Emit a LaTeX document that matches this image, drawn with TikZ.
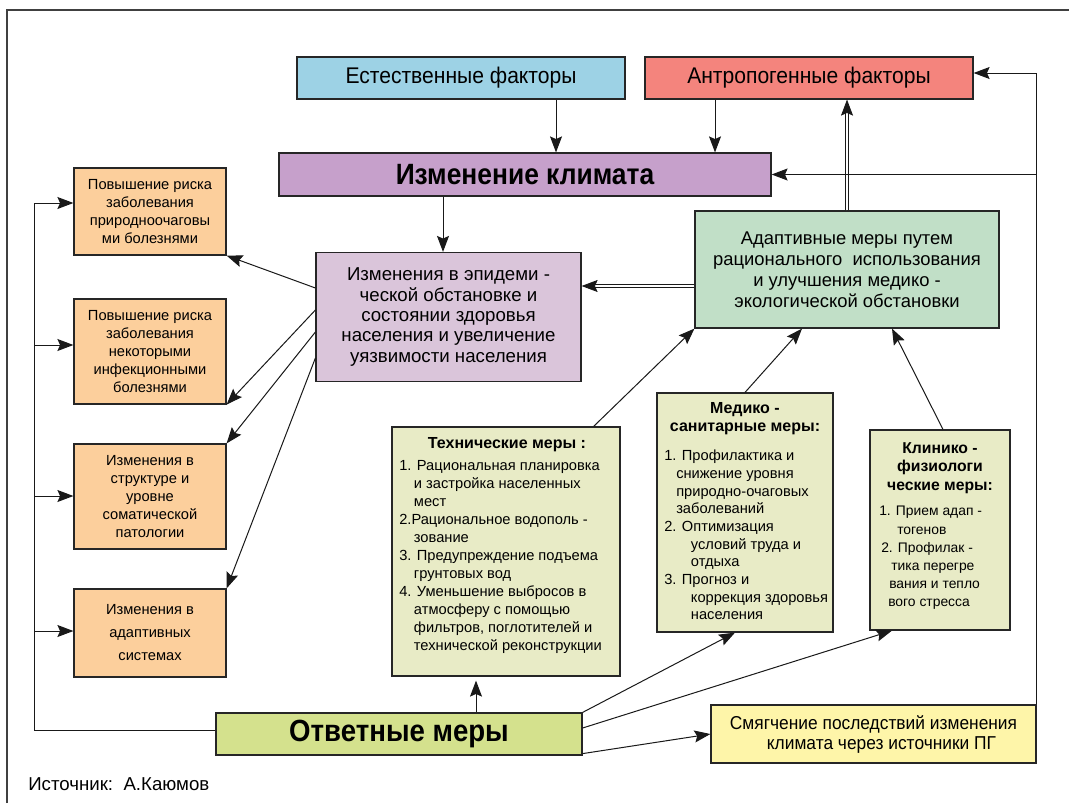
\documentclass[tikz,border=0pt]{standalone}
\usepackage{fontspec}
\setmainfont{Liberation Sans}
\newfontfamily\condfont[FakeStretch=0.9]{Liberation Sans}
\newfontfamily\semifont[FakeStretch=0.93]{Liberation Sans}
\usetikzlibrary{arrows.meta}
\definecolor{cNat}{HTML}{9DD2E5}
\definecolor{cAnt}{HTML}{F4847D}
\definecolor{cClim}{HTML}{C6A0CB}
\definecolor{cOr}{HTML}{FCCF9C}
\definecolor{cEpid}{HTML}{DAC5DA}
\definecolor{cAdapt}{HTML}{C1DFC7}
\definecolor{cMeas}{HTML}{E8EBC6}
\definecolor{cResp}{HTML}{D4E18D}
\definecolor{cMit}{HTML}{FEF5A9}
\begin{document}
\begin{tikzpicture}[x=0.75pt,y=-0.75pt,
  box/.style={draw=black!85, line width=0.9pt, inner sep=2pt, align=center},
  arr/.style={-{Stealth[length=12pt,width=9pt,inset=2pt]}, line width=0.75pt, black!90},
  dbl/.style={double=white, double distance=1.8pt, line width=0.6pt, black!90, -{Stealth[length=12pt,width=9pt,inset=2pt]}},
  lst/.style={align=left, anchor=north west, inner sep=0pt, font=\fontsize{11}{13.5}\selectfont},
  ttl/.style={align=center, inner sep=0pt, font=\bfseries\fontsize{12}{13.6}\selectfont},
  obox/.style={box, fill=cOr, minimum width=114pt, font=\fontsize{11}{13.5}\selectfont},
]
\fill[white] (0,0) rectangle (1069,803);
\useasboundingbox (0,0) rectangle (1069,803);
\draw[line width=1.5pt, black!75] (7,803) -- (7,10) -- (1069,10);

% top
\node[box, fill=cNat, minimum width=246pt, minimum height=31.5pt, font=\semifont\fontsize{17}{19}\selectfont] (nat) at (461,78) {Естественные факторы};
\node[box, fill=cAnt, minimum width=246pt, minimum height=31.5pt, font=\semifont\fontsize{17}{19}\selectfont] (ant) at (809,78) {Антропогенные факторы};
\node[box, fill=cClim, minimum width=369pt, minimum height=32.25pt, font=\condfont\bfseries\fontsize{22}{24}\selectfont] (clim) at (525,174.5) {Изменение климата};

% left boxes
\node[obox, minimum height=65.25pt] (b1) at (150,211.5) {Повышение риска\\заболевания\\природноочаговы\\ми болезнями};
\node[obox, minimum height=78.75pt] (b2) at (150,351.5) {Повышение риска\\заболевания\\некоторыми\\инфекционными\\болезнями};
\node[obox, minimum height=78.75pt] (b3) at (150,496.5) {Изменения в\\структуре и\\уровне\\соматической\\патологии};
\node[obox, minimum height=66pt, font=\fontsize{11}{17.25}\selectfont] (b4) at (150,633) {Изменения в\\адаптивных\\системах};

% middle
\node[box, fill=cEpid, minimum width=198.75pt, minimum height=96.75pt, font=\fontsize{14}{15.2}\selectfont] (epid) at (448.5,317) {Изменения в эпидеми -\\ческой обстановке и\\состоянии здоровья\\населения и увеличение\\уязвимости населения};
\node[box, fill=cAdapt, minimum width=228pt, minimum height=87.75pt, font=\fontsize{13.8}{15.75}\selectfont] (adapt) at (847,269.5) {Адаптивные меры путем\\рационального\ \ использования\\и улучшения медико -\\экологической обстановки};

% measures
\node[box, fill=cMeas, minimum width=171pt, minimum height=186.75pt] (tech) at (506,551.5) {};
\node[ttl] (techT) at (507,445) {Технические меры :};
\node[lst] (techL) at (399,460) {1. Рациональная планировка\\\hspace*{11pt}и застройка населенных\\\hspace*{11pt}мест\\2.Рациональное водополь -\\\hspace*{11pt}зование\\3. Предупреждение подъема\\\hspace*{11pt}грунтовых вод\\4. Уменьшение выбросов в\\\hspace*{11pt}атмосферу с помощью\\\hspace*{11pt}фильтров, поглотителей и\\\hspace*{11pt}технической реконструкции};

\node[box, fill=cMeas, minimum width=132pt, minimum height=179.25pt] (med) at (745,512.5) {};
\node[ttl] (medT) at (745,419) {Медико -\\санитарные меры:};
\node[lst, font=\fontsize{11}{13.25}\selectfont] (medL) at (664,450) {1. Профилактика и\\\hspace*{9pt}снижение уровня\\\hspace*{9pt}природно-очаговых\\\hspace*{9pt}заболеваний\\2. Оптимизация\\\hspace*{20pt}условий труда и\\\hspace*{20pt}отдыха\\3. Прогноз и\\\hspace*{20pt}коррекция здоровья\\\hspace*{20pt}населения};

\node[box, fill=cMeas, minimum width=105pt, minimum height=150pt] (clin) at (940,530) {};
\node[ttl, font=\bfseries\fontsize{11.8}{13.9}\selectfont] (clinT) at (940,468) {Клинико -\\физиологи\\ческие меры:};
\node[lst, font=\fontsize{10.4}{13.65}\selectfont] (clinL) at (879,506) {1. Прием адап -\\\hspace*{13.5pt}тогенов\\\hspace*{1.5pt}2. Профилак -\\\hspace*{9pt}тика перегре\\\hspace*{7.5pt}вания и тепло\\\hspace*{6.75pt}вого стресса};

% bottom
\node[box, fill=cResp, minimum width=274.5pt, minimum height=31.5pt, font=\condfont\bfseries\fontsize{23}{25}\selectfont] (resp) at (399,734) {Ответные меры};
\node[box, fill=cMit, minimum width=243.75pt, minimum height=43.5pt, font=\semifont\fontsize{14}{15}\selectfont] (mitig) at (873.5,734) {Смягчение последствий изменения\\\hspace*{12pt}климата через источники ПГ};
\node[anchor=base west, inner sep=0pt, font=\fontsize{14}{16}\selectfont] (src) at (28,790) {Источник:\ \ А.Каюмов};

% helper coordinates
\coordinate (xN) at (556,0);
\coordinate (xA) at (715,0);
\coordinate (xE) at (443,0);
\coordinate (yD) at (0,286);
\coordinate (rT) at (1035,73);
\coordinate (xM) at (802,0);
\coordinate (xC) at (892,0);
\coordinate (xR) at (476,0);
\coordinate (xMB) at (735,0);
\coordinate (l1) at (34,203);
\coordinate (l2) at (34,345);
\coordinate (l3) at (34,496);
\coordinate (l4) at (34,631);

% connectors top
\draw[arr] (nat.south -| xN) -- (clim.north -| xN);
\draw[arr] (ant.south -| xA) -- (clim.north -| xA);
\draw[dbl] (adapt.north) -- (ant.south -| adapt.north);
\draw[arr] (mitig.north east) -- (mitig.north east |- rT) -- (rT -| ant.east);
\draw[arr] (mitig.north east |- clim.east) -- (clim.east);
\draw[arr] (clim.south -| xE) -- (epid.north -| xE);
\draw[dbl] (adapt.west |- yD) -- (epid.east |- yD);

% fan to left boxes
\draw[arr] (epid.west) ++(0,-29) -- (b1.south east);
\draw[arr] (epid.west) ++(0,-7) -- (b2.south east);
\draw[arr] (epid.west) ++(0,15) -- (b3.north east);
\draw[arr] (epid.west) ++(0,41) -- (b4.north east);

% measures to adaptation
\draw[arr] (tech.north east) ++(-27,0) -- (adapt.south west);
\draw[arr] (med.north) -- (adapt.south -| xM);
\draw[arr] (clin.north) ++(3,0) -- (adapt.south -| xC);

% response measures
\draw[arr, shorten >=3pt] (resp.north -| xR) -- (tech.south -| xR);
\draw[arr] (resp.north east) -- (med.south -| xMB);
\draw[arr] (resp.east) ++(0,-6) -- (clin.south -| xC);
\draw[arr] (resp.south east) ++(0,-2) -- (mitig.west);

% left bus
\draw[line width=0.75pt, black!90] (resp.west) ++(0,-4) -| (l1);
\draw[arr] (l1) -- (l1 -| b1.west);
\draw[arr] (l2) -- (l2 -| b2.west);
\draw[arr] (l3) -- (l3 -| b3.west);
\draw[arr] (l4) -- (l4 -| b4.west);
\end{tikzpicture}
\end{document}
